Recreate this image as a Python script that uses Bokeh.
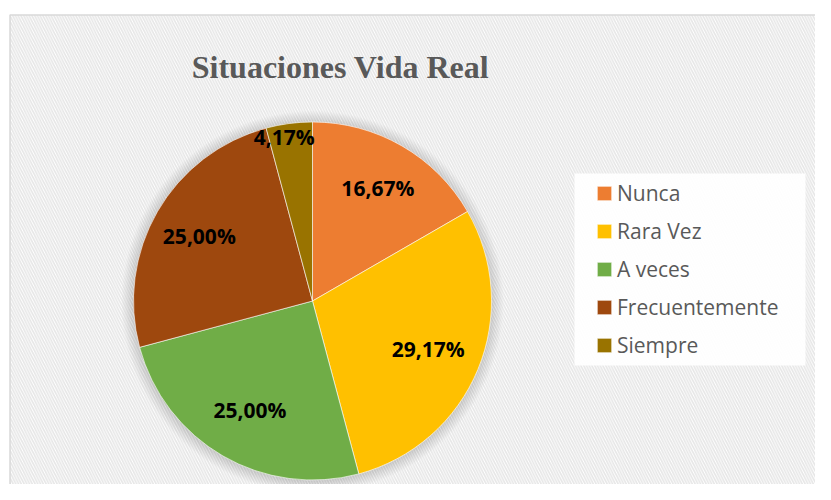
import numpy as np
from bokeh.plotting import figure
from bokeh.models import ColumnDataSource, Range1d, Legend, LegendItem
from bokeh.core.properties import value
from bokeh.embed import file_html
from bokeh.resources import INLINE

# ---- data ----
title_text = "Situaciones Vida Real"
categories = ["Nunca", "Rara Vez", "A veces", "Frecuentemente", "Siempre"]
percentages = [16.67, 29.17, 25.00, 25.00, 4.17]
colors = ["#ED7D31", "#FFC000", "#70AD47", "#9E480E", "#997300"]

# ---- layout (pixel coordinates, y measured from top) ----
W, H = 815, 484
cx, cy_img, R = 312.0, 300.5, 179.0
label_r = [0.73, 0.70, 0.70, 0.73, 0.93]
label_da = [0.0, 0.0, 0.0, 0.0, 0.04]


def Y(img_y):
    return H - img_y


p = figure(width=W, height=H, x_range=Range1d(0, W), y_range=Range1d(0, H),
           output_backend="svg", toolbar_location=None, tools="",
           min_border=0, outline_line_color=None)
p.axis.visible = False
p.grid.visible = False
p.background_fill_color = "white"
p.border_fill_color = "white"

# hatched chart area with light border
p.quad(left=[9.5], right=[840], top=[Y(14.5)], bottom=[-20],
       fill_color="white", hatch_pattern="\\", hatch_color="#e6e6e6",
       hatch_scale=5.5, hatch_weight=1.6, line_color="#d9d9d9", line_width=1.5)

# soft shadow around the pie
for k in range(1, 13):
    p.circle(x=[cx], y=[Y(cy_img) - 1], radius=R + k, fill_color="black",
             fill_alpha=0.012, line_color=None)

# pie
vals = np.array(percentages)
frac = vals / vals.sum()
cum = np.concatenate([[0], np.cumsum(frac)])
start = np.pi / 2 - cum[:-1] * 2 * np.pi
end = np.pi / 2 - cum[1:] * 2 * np.pi
mid = (start + end) / 2 + np.array(label_da)
src = ColumnDataSource(dict(cat=categories, val=percentages, color=colors,
                            start=start, end=end))
wr = p.wedge(x=cx, y=Y(cy_img), radius=R, start_angle="start", end_angle="end",
             direction="clock", fill_color="color", line_color="white",
             line_width=0.6, source=src)

# data labels
lab = ColumnDataSource(dict(
    x=cx + np.array(label_r) * R * np.cos(mid),
    y=Y(cy_img) + np.array(label_r) * R * np.sin(mid),
    t=[f"{v:.2f}%".replace(".", ",") for v in percentages]))
p.text(x="x", y="y", text="t", source=lab, text_align="center", text_baseline="middle",
       text_font=value("Open Sans"), text_font_style="bold", text_font_size="21px",
       text_color="black")

# title
p.text(x=[340], y=[Y(66)], text=[title_text], text_align="center", text_baseline="alphabetic",
       text_font=value("Liberation Serif"), text_font_style="bold", text_font_size="32px",
       text_color="#595959")

# legend box
p.quad(left=[574], right=[805], top=[Y(173)], bottom=[Y(365)],
       fill_color="white", fill_alpha=0.92, line_color=None)

legend = Legend(items=[LegendItem(label=c, renderers=[wr], index=i)
                       for i, c in enumerate(categories)],
                location=(595, 125), padding=0, margin=0, spacing=10,
                glyph_width=18, glyph_height=18, label_standoff=4,
                label_height=20, label_text_font="Open Sans",
                label_text_font_size="21px", label_text_color="#595959",
                background_fill_alpha=0, border_line_color=None)
p.add_layout(legend, "center")

open("out.html", "w").write(file_html(p, INLINE))
